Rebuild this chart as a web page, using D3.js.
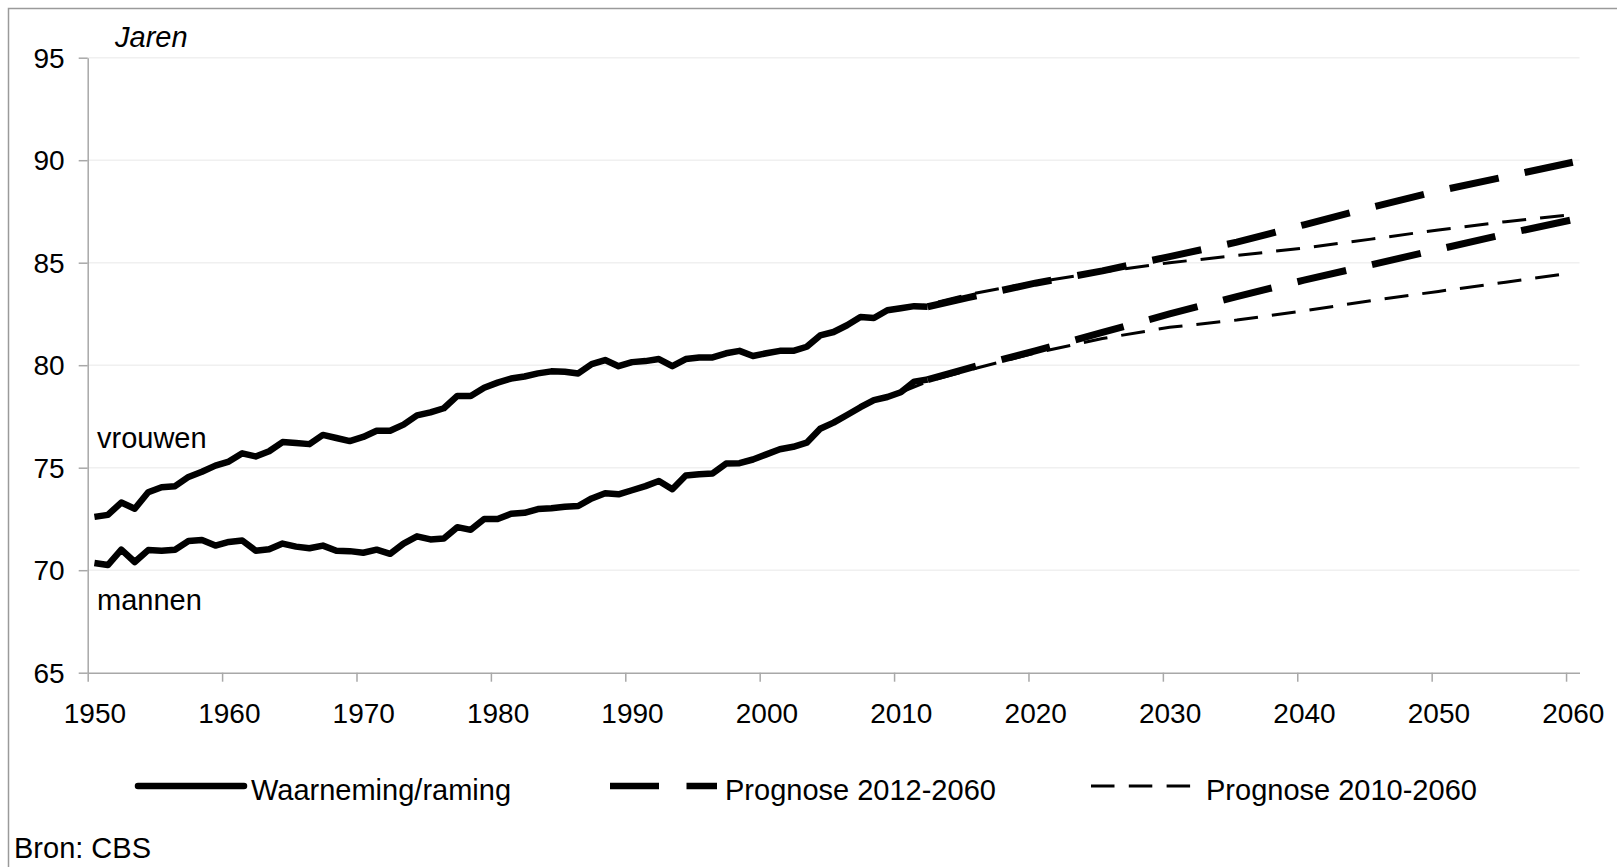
<!DOCTYPE html>
<html>
<head>
<meta charset="utf-8">
<script src="https://cdn.jsdelivr.net/npm/d3@7"></script>
<style>
  html, body { margin: 0; padding: 0; background: #fff; }
  svg { display: block; font-family: "Liberation Sans", Arial, sans-serif; }
</style>
</head>
<body>
<svg id="chart" width="1617" height="867"></svg>
<script>
// ---------- data ----------
const obsYears = d3.range(1950, 2013);
const vrouwenObs = [72.6,72.7,73.3,73.0,73.8,74.05,74.1,74.55,74.8,75.1,
  75.3,75.7,75.55,75.8,76.25,76.2,76.15,76.6,76.45,76.3,
  76.5,76.8,76.8,77.1,77.55,77.7,77.9,78.5,78.5,78.9,
  79.15,79.35,79.45,79.6,79.7,79.68,79.6,80.05,80.25,79.95,
  80.15,80.2,80.3,79.95,80.3,80.38,80.38,80.58,80.7,80.45,
  80.58,80.7,80.7,80.9,81.45,81.62,81.95,82.35,82.3,82.68,
  82.78,82.88,82.85];
const mannenObs = [70.35,70.25,71.0,70.4,70.98,70.95,71.0,71.42,71.47,71.2,
  71.38,71.45,70.95,71.02,71.3,71.15,71.07,71.2,70.95,70.93,
  70.85,71.0,70.8,71.3,71.65,71.5,71.55,72.1,71.97,72.5,
  72.5,72.75,72.8,72.98,73.02,73.1,73.13,73.5,73.75,73.7,
  73.9,74.1,74.35,73.95,74.62,74.68,74.72,75.2,75.22,75.4,
  75.65,75.9,76.02,76.22,76.9,77.2,77.57,77.95,78.3,78.45,
  78.68,79.2,79.3];

const prog2012Years = [2012,2015,2020,2025,2030,2035,2040,2045,2050,2055,2060];
const vrouwen2012 = [82.85,83.3,84.0,84.6,85.3,86.0,86.85,87.7,88.5,89.2,89.9];
const mannen2012  = [79.3,79.85,80.7,81.6,82.5,83.35,84.15,84.9,85.65,86.4,87.1];

const prog2010Years = [2010,2012,2015,2020,2025,2030,2035,2040,2045,2050,2055,2060];
const vrouwen2010 = [82.78,82.95,83.45,84.05,84.55,85.0,85.35,85.72,86.15,86.6,87.0,87.35];
const mannen2010  = [78.68,79.2,79.75,80.6,81.3,81.85,82.2,82.65,83.15,83.6,84.05,84.5];

const xTicks = d3.range(1950, 2061, 10);
const yTicks = [65,70,75,80,85,90,95];

const legendItems = ["Waarneming/raming", "Prognose 2012-2060", "Prognose 2010-2060"];

// ---------- layout ----------
const svg = d3.select("#chart");
const FS = 28, FS2 = 29;
const x = d3.scaleLinear().domain([1950, 2061]).range([87.7, 1579.5]);
const y = d3.scaleLinear().domain([65, 95]).range([672.7, 57.7]);
const half = (x(1951) - x(1950)) / 2;
const px = yr => x(yr) + half;

svg.append("rect").attr("width", 1617).attr("height", 867).attr("fill", "#fff");
// outer frame
svg.append("rect").attr("x", 8.5).attr("y", 8.5).attr("width", 1700).attr("height", 1000)
  .attr("fill", "none").attr("stroke", "#9a9a9a").attr("stroke-width", 1.5);

// gridlines
svg.append("g").selectAll("line").data(yTicks.filter(d => d > 65)).join("line")
  .attr("x1", x(1950)).attr("x2", x(2061))
  .attr("y1", d => y(d)).attr("y2", d => y(d))
  .attr("stroke", "#f0f0f0").attr("stroke-width", 1.5);

// y axis
const yAxis = svg.append("g").attr("transform", `translate(${x(1950)},0)`)
  .call(d3.axisLeft(y).tickValues(yTicks).tickSize(9).tickSizeOuter(0).tickPadding(14).tickFormat(d3.format("d")));
yAxis.select(".domain").attr("stroke", "#a8a8a8").attr("stroke-width", 1.5);
yAxis.selectAll(".tick line").attr("stroke", "#a8a8a8").attr("stroke-width", 1.5);
yAxis.selectAll("text").attr("font-size", FS).attr("fill", "#000")
  .attr("font-family", "Liberation Sans, Arial, sans-serif").attr("dy", "0.34em");

// x axis
const xAxis = svg.append("g").attr("transform", `translate(0,${y(65)})`)
  .call(d3.axisBottom(x).tickValues(xTicks).tickSize(9).tickSizeOuter(0).tickFormat(d3.format("d")));
xAxis.select(".domain").attr("stroke", "#a8a8a8").attr("stroke-width", 1.5);
xAxis.selectAll(".tick line").attr("stroke", "#a8a8a8").attr("stroke-width", 1.5);
xAxis.selectAll("text").attr("font-size", FS).attr("fill", "#000")
  .attr("font-family", "Liberation Sans, Arial, sans-serif")
  .attr("x", half).attr("y", 30).attr("dy", "0.71em");

// lines
const line = d3.line().x(d => px(d[0])).y(d => y(d[1]));
const zip = (a, b) => a.map((v, i) => [v, b[i]]);

const g = svg.append("g").attr("fill", "none").attr("stroke", "#000");
[vrouwen2010, mannen2010].forEach(s =>
  g.append("path").attr("d", line(zip(prog2010Years, s)))
    .attr("stroke-width", 3).attr("stroke-dasharray", "24,14"));
[vrouwen2012, mannen2012].forEach(s =>
  g.append("path").attr("d", line(zip(prog2012Years, s)))
    .attr("stroke-width", 7).attr("stroke-dasharray", "50,26.5"));
[vrouwenObs, mannenObs].forEach(s =>
  g.append("path").attr("d", line(zip(obsYears, s)))
    .attr("stroke-width", 6.5).attr("stroke-linejoin", "round"));

// texts
const txt = (t, xx, yy, extra = {}) => {
  const el = svg.append("text").attr("x", xx).attr("y", yy).attr("font-size", FS2).attr("fill", "#000").text(t);
  Object.entries(extra).forEach(([k, v]) => el.attr(k, v));
  return el;
};
txt("Jaren", 115, 46.5, {"font-style": "italic"});
txt("vrouwen", 97, 448);
txt("mannen", 97, 610);
txt("Bron: CBS", 14, 858);

// legend
const ly = 786;
svg.append("line").attr("x1", 138).attr("x2", 244).attr("y1", ly).attr("y2", ly)
  .attr("stroke", "#000").attr("stroke-width", 6.5).attr("stroke-linecap", "round");
txt(legendItems[0], 251, 800);
svg.append("line").attr("x1", 610).attr("x2", 717).attr("y1", ly).attr("y2", ly)
  .attr("stroke", "#000").attr("stroke-width", 6.5).attr("stroke-dasharray", "49,27.5");
txt(legendItems[1], 725, 800);
svg.append("line").attr("x1", 1091).attr("x2", 1191).attr("y1", ly).attr("y2", ly)
  .attr("stroke", "#000").attr("stroke-width", 3).attr("stroke-dasharray", "23.5,14.3");
txt(legendItems[2], 1206, 800);
</script>
</body>
</html>
